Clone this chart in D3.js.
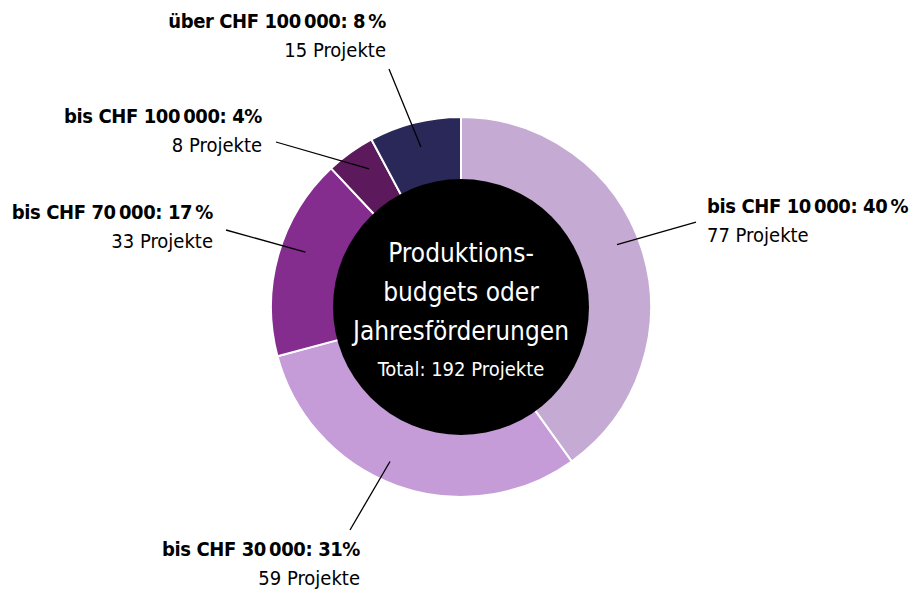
<!DOCTYPE html>
<html>
<head>
<meta charset="utf-8">
<script src="https://cdn.jsdelivr.net/npm/d3@7"></script>
<style>
  body { margin: 0; background: #fff; }
  svg { display: block; font-family: "DejaVu Sans Condensed", "Liberation Sans Narrow", sans-serif; }
</style>
</head>
<body>
<svg id="chart"></svg>
<script>
// DATA

const categories = ["bis CHF 10\u2009000", "bis CHF 30\u2009000", "bis CHF 70\u2009000", "bis CHF 100\u2009000", "über CHF 100\u2009000"];
const projects = [77, 59, 33, 8, 15];
const percentLabels = ["40\u2009%", "31%", "17\u2009%", "4%", "8\u2009%"];
const colors = ["#c5abd3", "#c59bd8", "#852c8f", "#5c1a5c", "#2a2858"];
const centerLines = ["Produktions-", "budgets oder", "Jahresförderungen"];
const total = d3.sum(projects);

// LAYOUT

const width = 914;
const height = 589;
const cx = 461, cy = 307;
const outerR = 190, innerR = 128;

// label anchors + leader line ends (degrees offset from slice middle)
const labelLayout = [
  { dAng: -4,  r: 168, x2: 696, y2: 222, tx: 707, ty: 213, anchor: "start" },
  { dAng: 5,   r: 170, x2: 350, y2: 530, tx: 360, ty: 556, anchor: "end" },
  { dAng: 3.5, r: 165, x2: 226, y2: 230, tx: 213, ty: 219, anchor: "end" },
  { dAng: 2,   r: 166, x2: 276, y2: 142, tx: 262, ty: 123, anchor: "end" },
  { dAng: 0,   r: 165, x2: 389, y2: 69,  tx: 386, ty: 28,  anchor: "end" }
];

const svg = d3.select("#chart")
  .attr("width", width)
  .attr("height", height);

const g = svg.append("g")
  .attr("transform", `translate(${cx},${cy})`);

const pie = d3.pie()
  .sort(null)
  .value(d => d);

const arcs = pie(projects);

const arc = d3.arc()
  .innerRadius(innerR - 4)
  .outerRadius(outerR);

// SLICES

g.selectAll("path.slice")
  .data(arcs)
  .enter()
  .append("path")
  .attr("class", "slice")
  .attr("d", arc)
  .attr("fill", (d, i) => colors[i])
  .attr("stroke", "#fff")
  .attr("stroke-width", 2);

// CENTER DISC

g.append("circle")
  .attr("r", innerR)
  .attr("fill", "#000");

// LEADER LINES

g.selectAll("line.leader")
  .data(arcs)
  .enter()
  .append("line")
  .attr("class", "leader")
  .attr("x1", (d, i) => {
    const a = (d.startAngle + d.endAngle) / 2 + labelLayout[i].dAng * Math.PI / 180;
    return Math.sin(a) * labelLayout[i].r;
  })
  .attr("y1", (d, i) => {
    const a = (d.startAngle + d.endAngle) / 2 + labelLayout[i].dAng * Math.PI / 180;
    return -Math.cos(a) * labelLayout[i].r;
  })
  .attr("x2", (d, i) => labelLayout[i].x2 - cx)
  .attr("y2", (d, i) => labelLayout[i].y2 - cy)
  .attr("stroke", "#000")
  .attr("stroke-width", 1.3);

// LABELS

const labels = svg.selectAll("g.label")
  .data(arcs)
  .enter()
  .append("g")
  .attr("class", "label");

labels.append("text")
  .attr("x", (d, i) => labelLayout[i].tx)
  .attr("y", (d, i) => labelLayout[i].ty)
  .attr("text-anchor", (d, i) => labelLayout[i].anchor)
  .attr("font-size", 20)
  .attr("letter-spacing", -0.4)
  .attr("font-weight", "bold")
  .attr("fill", "#000")
  .text((d, i) => `${categories[i]}: ${percentLabels[i]}`);

labels.append("text")
  .attr("x", (d, i) => labelLayout[i].tx)
  .attr("y", (d, i) => labelLayout[i].ty + 29)
  .attr("text-anchor", (d, i) => labelLayout[i].anchor)
  .attr("font-size", 20)
  .attr("fill", "#000")
  .text(d => `${d.value} Projekte`);

// CENTER TEXT

g.selectAll("text.center")
  .data(centerLines)
  .enter()
  .append("text")
  .attr("class", "center")
  .attr("text-anchor", "middle")
  .attr("y", (d, i) => -45 + i * 39)
  .attr("font-size", 26)
  .attr("fill", "#fff")
  .text(d => d);

g.append("text")
  .attr("text-anchor", "middle")
  .attr("y", 69)
  .attr("font-size", 20)
  .attr("fill", "#fff")
  .text(`Total: ${total} Projekte`);
</script>
</body>
</html>
